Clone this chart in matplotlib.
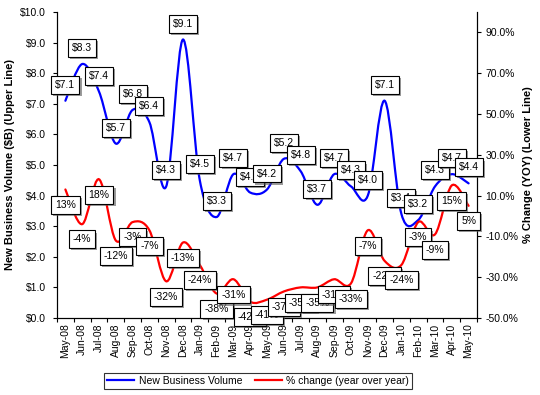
import matplotlib
matplotlib.use("Agg")
import matplotlib.pyplot as plt
import matplotlib.patheffects as pe
from matplotlib.path import Path
from matplotlib.patches import PathPatch
from matplotlib.lines import Line2D
import numpy as np

plt.rcParams["font.family"] = ["Liberation Sans", "DejaVu Sans"]

months = ["May-08", "Jun-08", "Jul-08", "Aug-08", "Sep-08", "Oct-08", "Nov-08",
          "Dec-08", "Jan-09", "Feb-09", "Mar-09", "Apr-09", "May-09", "Jun-09",
          "Jul-09", "Aug-09", "Sep-09", "Oct-09", "Nov-09", "Dec-09", "Jan-10",
          "Feb-10", "Mar-10", "Apr-10", "May-10"]
volume = [7.1, 8.3, 7.4, 5.7, 6.8, 6.4, 4.3, 9.1, 4.5, 3.3, 4.7, 4.1, 4.2,
          5.2, 4.8, 3.7, 4.7, 4.3, 4.0, 7.1, 3.4, 3.2, 4.3, 4.7, 4.4]
pct_change = [13, -4, 18, -12, -3, -7, -32, -13, -24, -38, -31, -42, -41,
              -37, -35, -35, -31, -33, -7, -22, -24, -3, -9, 15, 5]


def smooth_path(x, y):
    # Excel style smoothed line: cubic Bezier segments through every point
    pts = np.column_stack([x, y]).astype(float)
    n = len(pts)
    verts = [pts[0]]
    codes = [Path.MOVETO]
    for i in range(n - 1):
        p0 = pts[max(i - 1, 0)]
        p1 = pts[i]
        p2 = pts[i + 1]
        p3 = pts[min(i + 2, n - 1)]
        verts += [p1 + (p2 - p0) / 6.0, p2 - (p3 - p1) / 6.0, p2]
        codes += [Path.CURVE4] * 3
    return Path(verts, codes)


fig = plt.figure(figsize=(5.4, 3.95), dpi=100)
ax = fig.add_axes([57 / 540, 1 - 318 / 395, 420 / 540, 306 / 395])
ax2 = ax.twinx()

x = np.arange(len(months))
ax.add_patch(PathPatch(smooth_path(x, volume), fill=False, edgecolor="#0000ff",
                       linewidth=1.6, capstyle="round", zorder=2))
ax2.add_patch(PathPatch(smooth_path(x, pct_change), fill=False, edgecolor="#ff0000",
                        linewidth=1.6, capstyle="round", zorder=2))

ax.set_xlim(-0.5, len(months) - 0.5)
ax.set_ylim(0, 10)
ax2.set_ylim(-50, 100)
ax.set_yticks(np.arange(0, 10.5, 1))
ax.set_yticklabels([f"${v:.1f}" for v in np.arange(0, 10.5, 1)])
ax2.set_yticks(np.arange(-50, 100, 20))
ax2.set_yticklabels([f"{v:.1f}%" for v in np.arange(-50, 100, 20)])

ax.set_xticks(x)
ax.set_xticklabels(months, rotation=90)
ax.set_xticks(np.arange(-0.5, len(months), 1), minor=True)
ax.tick_params(axis="x", which="major", length=0, pad=4, labelsize=7.5)
ax.tick_params(axis="x", which="minor", length=3, width=0.8, direction="out")
ax.tick_params(axis="y", length=3, width=0.8, pad=5, labelsize=7.5)
ax2.tick_params(axis="y", length=3, width=0.8, pad=3, labelsize=7.5)

for a in (ax, ax2):
    a.spines["top"].set_visible(False)
    for s in ("left", "right", "bottom"):
        a.spines[s].set_linewidth(0.8)

ax.set_ylabel("New Business Volume ($B) (Upper Line)", fontsize=8, fontweight="bold")
ax.yaxis.set_label_coords(-0.1, 0.5)
ax2.set_ylabel("% Change (YOY) (Lower Line)", fontsize=8, fontweight="bold",
               rotation=90)
ax2.yaxis.set_label_coords(1.11, 0.5)

shadow = [pe.SimplePatchShadow(offset=(1.5, -1.5), shadow_rgbFace="0.35", alpha=0.6),
          pe.Normal()]
box = dict(boxstyle="square,pad=0.38", facecolor="white", edgecolor="black",
           linewidth=0.8)

for i, v in enumerate(volume):
    t = ax2.annotate(f"${v:.1f}", xy=(i, v * 15 - 50), xytext=(0, 11.5),
                     textcoords="offset points", ha="center", va="center",
                     fontsize=7.5, bbox=box, zorder=5)
    t.get_bbox_patch().set_path_effects(shadow)

for i, v in enumerate(pct_change):
    t = ax2.annotate(f"{v}%", xy=(i, v), xytext=(0, -11),
                     textcoords="offset points", ha="center", va="center",
                     fontsize=7.5, bbox=box, zorder=5)
    t.get_bbox_patch().set_path_effects(shadow)

handles = [Line2D([], [], color="#0000ff", linewidth=1.6),
           Line2D([], [], color="#ff0000", linewidth=1.6)]
leg = fig.legend(handles, ["New Business Volume", "% change (year over year)"],
                 loc="center", bbox_to_anchor=(258 / 540, 1 - 381 / 395), ncol=2,
                 fontsize=7.5, frameon=True, fancybox=False, handlelength=2.6,
                 handletextpad=0.4, columnspacing=1.2, borderpad=0.3,
                 borderaxespad=0)
leg.get_frame().set_edgecolor("black")
leg.get_frame().set_linewidth(0.8)

fig.savefig("out.png", dpi=100)
